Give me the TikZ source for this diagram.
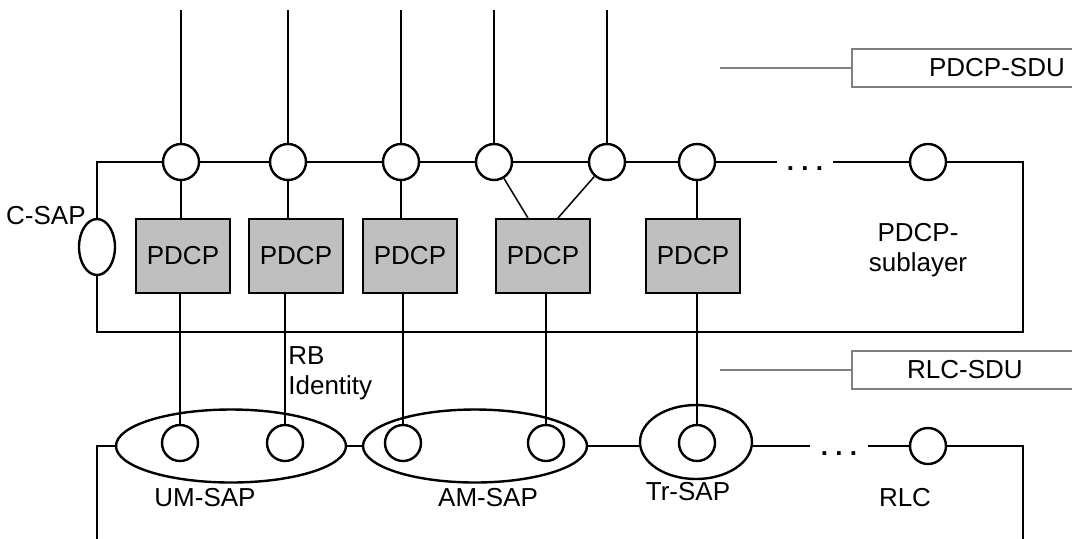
\documentclass[tikz,border=0pt]{standalone}
\usepackage{fontspec}
\setmainfont{Liberation Sans}
\usetikzlibrary{shapes.geometric}
\tikzset{
	lbl/.style = {inner sep=0pt, font=\fontsize{13}{15}\selectfont},
	wire/.style = {line width=1.3pt},
	link/.style = {line width=0.75pt},
	sap/.style = {circle, draw=black, line width=1.2pt, fill=white, minimum size=18pt, inner sep=0pt},
	entity/.style = {lbl, rectangle, draw=black, line width=1pt, fill=black!25, minimum width=47pt, minimum height=37pt},
	sapgroup/.style = {ellipse, draw=black, line width=1.2pt, inner sep=0pt},
	sdubox/.style = {lbl, rectangle, draw=gray, line width=0.6pt, minimum height=19pt},
	gap/.style = {lbl, inner sep=0pt, minimum width=28pt, font=\fontsize{13}{15}\bfseries}
}

\begin{document}
\begin{tikzpicture}[x=0.5pt, y=-0.5pt]
	\useasboundingbox (0,0) rectangle (1072,538);
	\clip (0,0) rectangle (1072,538);

	% corners of the two layers
	\coordinate (nw) at (97,162);
	\coordinate (ne) at (1023,162);
	\coordinate (sw) at (97,332);
	\coordinate (se) at (1023,332);
	\coordinate (lnw) at (97,446);
	\coordinate (lsw) at (97,540);
	\coordinate (lne) at (1023,446);
	\coordinate (lse) at (1023,540);

	% PDCP sublayer
	\node [sap] (u1) at (181,162) {};
	\node [sap] (u2) at (288,162) {};
	\node [sap] (u3) at (401,162) {};
	\node [sap] (u4) at (494,162) {};
	\node [sap] (u5) at (607,162) {};
	\node [sap] (u6) at (697,162) {};
	\node [sap] (u7) at (928,162) {};
	\node [gap] (d1) at (805,169) {.\ .\ .};
	\node [sapgroup, minimum width=18pt, minimum height=28pt] (csap) at (97,247) {};

	\node [entity] (b1) at (183,256) {PDCP};
	\node [entity] (b2) at (296,256) {PDCP};
	\node [entity] (b3) at (410,256) {PDCP};
	\node [entity] (b4) at (543,256) {PDCP};
	\node [entity] (b5) at (693,256) {PDCP};

	\draw [wire] (u1) -- (nw) -- (csap);
	\draw [wire] (csap) -- (sw) -- (se) -- (ne) -- (u7);
	\draw [wire] (u1) -- (u2) -- (u3) -- (u4) -- (u5) -- (u6);
	\draw [wire] (u6) -- (u6 -| d1.west);
	\draw [wire] (u7 -| d1.east) -- (u7);

	% service access points from above
	\foreach \i in {1,...,5}
		\draw [wire] (u\i) -- (u\i |- 0,10);

	\draw [link] (u1) -- (u1 |- b1.north);
	\draw [link] (u2) -- (u2 |- b2.north);
	\draw [link] (u3) -- (u3 |- b3.north);
	\draw [link] (u4) -- ([xshift=-7.5pt]b4.north);
	\draw [link] (u5) -- ([xshift=7.5pt]b4.north);
	\draw [link] (u6) -- (u6 |- b5.north);

	% RLC layer
	\node [sapgroup, minimum width=115pt, minimum height=36.5pt] (um) at (231,446) {};
	\node [sapgroup, minimum width=112pt, minimum height=36.5pt] (am) at (475,446) {};
	\node [sapgroup, minimum width=56pt, minimum height=37pt] (tr) at (696,442) {};
	\node [sap] (l1) at (180,443) {};
	\node [sap] (l2) at (285,443) {};
	\node [sap] (l3) at (403,443) {};
	\node [sap] (l4) at (546,443) {};
	\node [sap] (l5) at (697,443) {};
	\node [sap] (l6) at (928,446) {};
	\node [gap, minimum width=29pt] (d2) at (839,454) {.\ .\ .};

	\draw [wire] (lsw) -- (lnw) -- (um);
	\draw [wire] (um) -- (am);
	\draw [wire] (am.east) -- (am.east -| tr.west);
	\draw [wire] (tr.east |- lne) -- (lne -| d2.west);
	\draw [wire] (lne -| d2.east) -- (l6) -- (lne) -- (lse);

	% radio bearers down to the RLC
	\foreach \i in {1,...,5} {
		\draw [link] (b\i.south -| l\i) -- (l\i |- sw);
		\draw [wire] (l\i |- sw) -- (l\i);
	}

	% SDU markers
	\node [sdubox, minimum width=145pt] (pdcpsdu) at (997,68) {PDCP-SDU};
	\node [sdubox, minimum width=113pt] (rlcsdu) at (965,370) {RLC-SDU};
	\coordinate (p1) at (720,68);
	\coordinate (p2) at (720,370);
	\draw [gray, line width=0.6pt] (p1) -- (pdcpsdu);
	\draw [gray, line width=0.6pt] (p2) -- (rlcsdu);

	% labels
	\node [lbl, anchor=east] (csaplbl) at (86,216) {C-SAP};
	\node [lbl, align=center] (pdcplbl) at (918,250) {PDCP-\\sublayer};
	\node [lbl, anchor=west, align=left] (rbid) at (288,373) {RB\\Identity};
	\node [lbl] (umlbl) at (205,498) {UM-SAP};
	\node [lbl] (amlbl) at (488,498) {AM-SAP};
	\node [lbl] (trlbl) at (688,492) {Tr-SAP};
	\node [lbl] (rlclbl) at (905,498) {RLC};
\end{tikzpicture}
\end{document}
